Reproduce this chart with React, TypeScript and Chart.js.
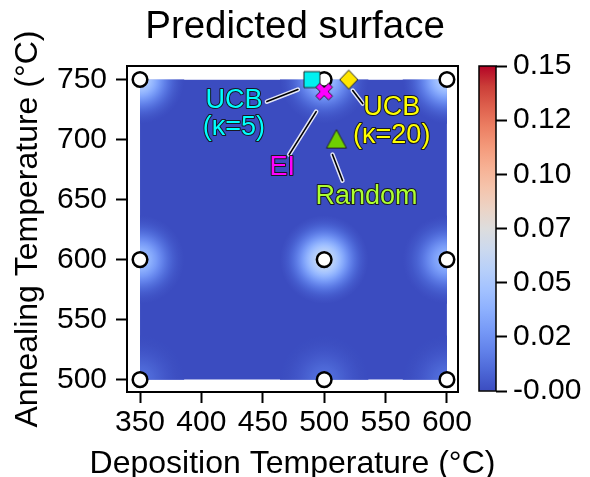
import React, { useEffect, useRef } from "react";
import { Chart, registerables } from "chart.js";

Chart.register(...registerables);

const FONT = "'Liberation Sans', Arial, Helvetica, sans-serif";

// ---- data ----
const xTicks = [350, 400, 450, 500, 550, 600];
const yTicks = [500, 550, 600, 650, 700, 750];
const xRange = [339.4, 609];
const yRange = [489.7, 761.3];
const surfaceX = [350, 600];
const surfaceY = [500, 750];
const surfaceBase = 0;

const sampleX = [350, 350, 350, 500, 500, 500, 600, 600, 600];
const sampleY = [500, 600, 750, 500, 600, 750, 500, 600, 750];
const samplePeak = [0.012, 0.045, 0.055, 0.012, 0.065, 0.045, 0.012, 0.04, 0.055];

const methodLabels = [["UCB", "(κ=5)"], ["EI"], ["UCB", "(κ=20)"], ["Random"]];
const methodX = [490, 500, 520, 510];
const methodY = [750, 740, 750, 700];

const xTitle = "Deposition Temperature (°C)";
const yTitle = "Annealing Temperature (°C)";
const chartTitle = "Predicted surface";

const cbRange = [0, 0.15];
const cbTicks = [0, 0.025, 0.05, 0.075, 0.1, 0.125, 0.15];
const cbTickLabels = ["-0.00", "0.02", "0.05", "0.07", "0.10", "0.12", "0.15"];

// ---- styles ----
const KERNEL = 36; // spread of surface bumps, data units
const methodFill = ["#00f0f0", "#ff00ff", "#ffe600", "#6fd000"];
const methodText = ["#00ffff", "#ff00ff", "#ffff00", "#adff2f"];
const methodShape = ["square", "x", "diamond", "triangle"];
// label placement in pixels relative to marker: [dx, dy] per line
const labelPos = [
  [[-78, 21], [-78, 48]],
  [[-42, 76]],
  [[43, 28], [43, 56]],
  [[30, 57]],
];
// leader line [dx1, dy1, dx2, dy2]
const leaderPos = [
  [-45, 22, -14, 10],
  [-35, 63, -8, 20],
  [4, 11, 14, 24],
  [-4, 15, 6, 41],
];

const CW: number[][] = [
  [0, 59, 76, 192], [0.0625, 77, 104, 215], [0.125, 98, 130, 234], [0.1875, 119, 154, 247],
  [0.25, 141, 176, 254], [0.3125, 163, 194, 255], [0.375, 184, 208, 249], [0.4375, 204, 217, 238],
  [0.5, 221, 221, 221], [0.5625, 236, 211, 197], [0.625, 245, 196, 172], [0.6875, 247, 177, 148],
  [0.75, 244, 154, 123], [0.8125, 236, 127, 99], [0.875, 222, 96, 77], [0.9375, 203, 62, 56],
  [1, 180, 4, 38],
];
function coolwarm(t: number): string {
  t = Math.max(0, Math.min(1, t));
  for (let i = 1; i < CW.length; i++) {
    if (t <= CW[i][0]) {
      const a = CW[i - 1], b = CW[i];
      const f = (t - a[0]) / (b[0] - a[0]);
      const c = [1, 2, 3].map((k) => Math.round(a[k] + (b[k] - a[k]) * f));
      return `rgb(${c[0]},${c[1]},${c[2]})`;
    }
  }
  return "rgb(180,4,38)";
}
const norm = (v: number) => (v - cbRange[0]) / (cbRange[1] - cbRange[0]);

function makeMarker(shape: string, fill: string): HTMLCanvasElement {
  const S = 26;
  const c = document.createElement("canvas");
  c.width = S;
  c.height = S;
  const g = c.getContext("2d")!;
  g.translate(S / 2, S / 2);
  g.beginPath();
  if (shape === "square") {
    g.rect(-8, -8, 16, 16);
  } else if (shape === "diamond") {
    g.moveTo(0, -9.5); g.lineTo(9, 0); g.lineTo(0, 9.5); g.lineTo(-9, 0); g.closePath();
  } else if (shape === "triangle") {
    g.moveTo(0, -10); g.lineTo(10, 8.5); g.lineTo(-10, 8.5); g.closePath();
  } else {
    const a = 9, h = 2.8;
    const pts = [[h, a], [h, h], [a, h], [a, -h], [h, -h], [h, -a], [-h, -a], [-h, -h], [-a, -h], [-a, h], [-h, h], [-h, a]];
    const r = Math.PI / 4;
    pts.forEach(([px, py], i) => {
      const qx = px * Math.cos(r) - py * Math.sin(r);
      const qy = px * Math.sin(r) + py * Math.cos(r);
      if (i === 0) g.moveTo(qx, qy); else g.lineTo(qx, qy);
    });
    g.closePath();
  }
  g.fillStyle = fill;
  g.fill();
  g.lineWidth = 1;
  g.strokeStyle = "#222";
  g.stroke();
  return c;
}

const surfacePlugin = {
  id: "surface",
  beforeDatasetsDraw(chart: any) {
    const { ctx } = chart;
    const x = chart.scales.x, y = chart.scales.y;
    const l = x.getPixelForValue(surfaceX[0]), r = x.getPixelForValue(surfaceX[1]);
    const t = y.getPixelForValue(surfaceY[1]), b = y.getPixelForValue(surfaceY[0]);
    ctx.save();
    ctx.beginPath();
    ctx.rect(l, t, r - l, b - t);
    ctx.clip();
    ctx.fillStyle = coolwarm(norm(surfaceBase));
    ctx.fillRect(l, t, r - l, b - t);
    const K = 3.2;
    const eK = Math.exp(-K);
    sampleX.forEach((sx, i) => {
      const cx = x.getPixelForValue(sx), cy = y.getPixelForValue(sampleY[i]);
      const rad = Math.abs(x.getPixelForValue(sx + KERNEL) - cx);
      const g = ctx.createRadialGradient(cx, cy, 0, cx, cy, rad);
      for (let k = 0; k <= 16; k++) {
        const f = k / 16;
        const v = surfaceBase + samplePeak[i] * (Math.exp(-K * f * f) - eK) / (1 - eK);
        g.addColorStop(f, coolwarm(norm(v)));
      }
      ctx.fillStyle = g;
      ctx.beginPath();
      ctx.arc(cx, cy, rad, 0, Math.PI * 2);
      ctx.fill();
    });
    ctx.restore();
  },
};

const framePlugin = {
  id: "frame",
  afterDraw(chart: any) {
    const { ctx, chartArea: a } = chart;
    ctx.save();
    ctx.lineWidth = 2;
    ctx.strokeStyle = "#000";
    ctx.strokeRect(a.left, a.top, a.right - a.left, a.bottom - a.top);
    // x-axis title (drawn here so it is not squeezed to the axis width)
    ctx.font = `32px ${FONT}`;
    ctx.fillStyle = "#000";
    ctx.textAlign = "center";
    ctx.textBaseline = "middle";
    ctx.fillText(xTitle, (a.left + a.right) / 2, chart.height - 13);
    ctx.restore();
  },
};

const annotationPlugin = {
  id: "annot",
  afterDatasetsDraw(chart: any) {
    const { ctx } = chart;
    const x = chart.scales.x, y = chart.scales.y;
    ctx.save();
    methodX.forEach((mx, i) => {
      const px = x.getPixelForValue(mx), py = y.getPixelForValue(methodY[i]);
      const [a1, b1, a2, b2] = leaderPos[i];
      ctx.lineCap = "round";
      ctx.beginPath();
      ctx.moveTo(px + a1, py + b1);
      ctx.lineTo(px + a2, py + b2);
      ctx.strokeStyle = "rgba(255,255,255,0.85)";
      ctx.lineWidth = 4.5;
      ctx.stroke();
      ctx.strokeStyle = "#000";
      ctx.lineWidth = 1.6;
      ctx.stroke();
      ctx.font = `27px ${FONT}`;
      ctx.textAlign = "center";
      ctx.textBaseline = "middle";
      methodLabels[i].forEach((line, j) => {
        const [dx, dy] = labelPos[i][j];
        ctx.lineJoin = "round";
        ctx.lineWidth = 2;
        ctx.strokeStyle = "rgba(20,20,20,0.9)";
        ctx.strokeText(line, px + dx, py + dy);
        ctx.fillStyle = methodText[i];
        ctx.fillText(line, px + dx, py + dy);
      });
    });
    ctx.restore();
  },
};

const cbFramePlugin = {
  id: "cbframe",
  afterDraw(chart: any) {
    const { ctx, chartArea: a } = chart;
    ctx.save();
    ctx.lineWidth = 1.5;
    ctx.strokeStyle = "#000";
    ctx.strokeRect(a.left, a.top, a.right - a.left, a.bottom - a.top);
    ctx.restore();
  },
};

function zeroPad(s: any) {
  s.paddingLeft = 0;
  s.paddingRight = 0;
  s.paddingTop = 0;
  s.paddingBottom = 0;
}

const tickFont = { family: FONT, size: 30, lineHeight: 1.2 };
const grid = { drawOnChartArea: false, drawTicks: true, tickLength: 11, tickWidth: 2, tickColor: "#000" };

export default function App() {
  const mainRef = useRef<HTMLCanvasElement>(null);
  const cbRef = useRef<HTMLCanvasElement>(null);

  useEffect(() => {
    const markers = methodShape.map((s, i) => makeMarker(s, methodFill[i]));
    const main = new Chart(mainRef.current!, {
      type: "scatter",
      data: {
        datasets: [
          {
            label: "methods",
            data: methodX.map((v, i) => ({ x: v, y: methodY[i] })),
            pointStyle: markers as any,
            pointRadius: 10,
            order: 1,
          },
          {
            label: "samples",
            data: sampleX.map((v, i) => ({ x: v, y: sampleY[i] })),
            pointStyle: "circle",
            pointRadius: 7.3,
            borderWidth: 2.5,
            backgroundColor: "#fff",
            borderColor: "#000",
            order: 2,
          },
        ],
      },
      options: {
        responsive: false,
        animation: false,
        devicePixelRatio: 1,
        events: [],
        layout: { padding: { left: 0, right: 0, top: 0, bottom: 0 } },
        plugins: {
          legend: { display: false },
          tooltip: { enabled: false },
          title: {
            display: true,
            text: chartTitle,
            color: "#000",
            font: { family: FONT, size: 38.5, weight: "normal", lineHeight: 1.2 },
            padding: { top: 4.4, bottom: 15.4 },
          },
        },
        scales: {
          x: {
            type: "linear",
            min: xRange[0],
            max: xRange[1],
            afterBuildTicks: (s: any) => { s.ticks = xTicks.map((v) => ({ value: v })); },
            afterFit: (s: any) => { s.height = 85; zeroPad(s); },
            ticks: { font: tickFont, color: "#000", padding: 2, autoSkip: false, maxRotation: 0, callback: (v: any) => String(v) },
            grid,
            border: { display: false },
            title: { display: false },
          },
          y: {
            type: "linear",
            min: yRange[0],
            max: yRange[1],
            afterBuildTicks: (s: any) => { s.ticks = yTicks.map((v) => ({ value: v })); },
            afterFit: (s: any) => { s.width = 127; zeroPad(s); },
            ticks: { font: tickFont, color: "#000", padding: 9, autoSkip: false, callback: (v: any) => String(v) },
            grid,
            border: { display: false },
            title: {
              display: true,
              text: yTitle,
              color: "#000",
              font: { family: FONT, size: 32, lineHeight: 0.6 },
              padding: { top: 18.4, bottom: 0 },
            },
          },
          yRight: {
            type: "linear",
            position: "right",
            display: true,
            min: 0,
            max: 1,
            afterFit: (s: any) => { s.width = 132; zeroPad(s); },
            ticks: { display: false },
            grid: { display: false, drawTicks: false },
            border: { display: false },
          },
        },
      } as any,
      plugins: [surfacePlugin, annotationPlugin, framePlugin],
    });

    const cb = new Chart(cbRef.current!, {
      type: "bar",
      data: {
        labels: [""],
        datasets: [
          {
            data: [cbRange] as any,
            borderWidth: 0,
            barPercentage: 1,
            categoryPercentage: 1,
            backgroundColor: (c: any) => {
              const ch = c.chart;
              const ys = ch.scales && ch.scales.y;
              if (!ch.chartArea || !ys) return coolwarm(0);
              const y0 = ys.getPixelForValue(cbRange[0]);
              const y1 = ys.getPixelForValue(cbRange[1]);
              const g = ch.ctx.createLinearGradient(0, y0, 0, y1);
              CW.forEach((s) => g.addColorStop(s[0], `rgb(${s[1]},${s[2]},${s[3]})`));
              return g;
            },
          },
        ],
      },
      options: {
        responsive: false,
        animation: false,
        devicePixelRatio: 1,
        events: [],
        layout: { padding: { left: 479, right: 0, top: 66, bottom: 86 } },
        plugins: { legend: { display: false }, tooltip: { enabled: false } },
        scales: {
          x: { display: false },
          y: {
            position: "right",
            min: cbRange[0],
            max: cbRange[1],
            afterBuildTicks: (s: any) => { s.ticks = cbTicks.map((v) => ({ value: v })); },
            afterFit: (s: any) => { s.width = 94; zeroPad(s); },
            ticks: {
              font: tickFont,
              color: "#000",
              padding: 6,
              autoSkip: false,
              callback: (v: any) => {
                const i = cbTicks.findIndex((t) => Math.abs(t - v) < 1e-9);
                return i >= 0 ? cbTickLabels[i] : "";
              },
            },
            grid,
            border: { display: false },
          },
        },
      } as any,
      plugins: [cbFramePlugin],
    });

    return () => {
      main.destroy();
      cb.destroy();
    };
  }, []);

  return (
    <div style={{ position: "fixed", left: 0, top: 0, width: 590, height: 477, background: "#fff" }}>
      <canvas ref={mainRef} width={590} height={477} style={{ position: "absolute", left: 0, top: 0, width: 590, height: 477 }} />
      <canvas ref={cbRef} width={590} height={477} style={{ position: "absolute", left: 0, top: 0, width: 590, height: 477 }} />
    </div>
  );
}
